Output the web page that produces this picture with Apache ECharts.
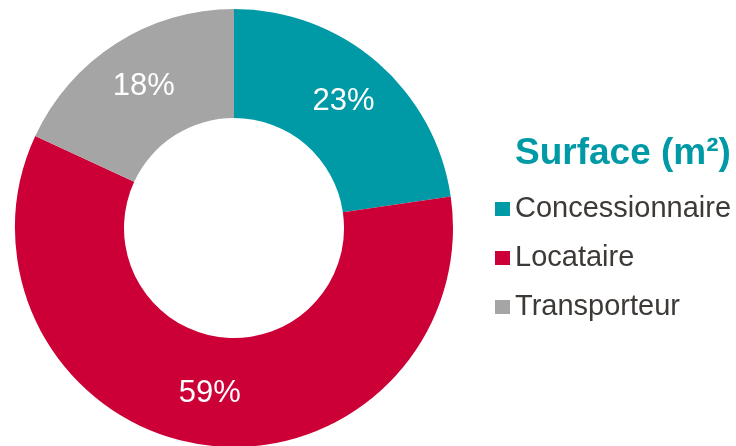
<!DOCTYPE html>
<html>
<head>
<meta charset="utf-8">
<script src="https://cdn.jsdelivr.net/npm/echarts@6/dist/echarts.min.js"></script>
<style>
  html, body { margin: 0; padding: 0; background: #fff; }
  #main { width: 736px; height: 446px; }
</style>
</head>
<body>
<div id="main"></div>
<script>
var categories = ['Concessionnaire', 'Locataire', 'Transporteur'];
var shares = [22.7, 59.2, 18.1];
var colors = ['#009AA6', '#CC0036', '#A5A5A5'];

var myChart = echarts.init(document.getElementById('main'));

var pieData = categories.map(function (name, i) {
    return { name: name, value: shares[i], itemStyle: { color: colors[i] } };
});

var option = {
    animation: false,
    title: {
        text: 'Surface (m²)',
        left: 515,
        top: 135,
        padding: 0,
        textStyle: {
            color: '#009AA6',
            fontFamily: 'Liberation Sans',
            fontWeight: 'bold',
            fontSize: 37,
            lineHeight: 38
        }
    },
    legend: {
        orient: 'vertical',
        left: 495,
        top: 194,
        padding: 0,
        icon: 'rect',
        itemWidth: 15,
        itemHeight: 14,
        itemGap: 19,
        data: categories,
        textStyle: {
            color: '#3d3936',
            fontFamily: 'Liberation Sans',
            fontSize: 29,
            lineHeight: 30
        }
    },
    series: [
        {
            type: 'pie',
            center: [234, 228],
            radius: [110, 219],
            startAngle: 90,
            clockwise: true,
            avoidLabelOverlap: false,
            label: {
                show: true,
                position: 'inside',
                formatter: '{d}%',
                color: '#ffffff',
                fontFamily: 'Liberation Sans',
                fontSize: 31
            },
            labelLine: { show: false },
            itemStyle: { borderWidth: 0 },
            emphasis: { disabled: true },
            percentPrecision: 0,
            data: pieData
        }
    ]
};

myChart.setOption(option);
</script>
</body>
</html>
